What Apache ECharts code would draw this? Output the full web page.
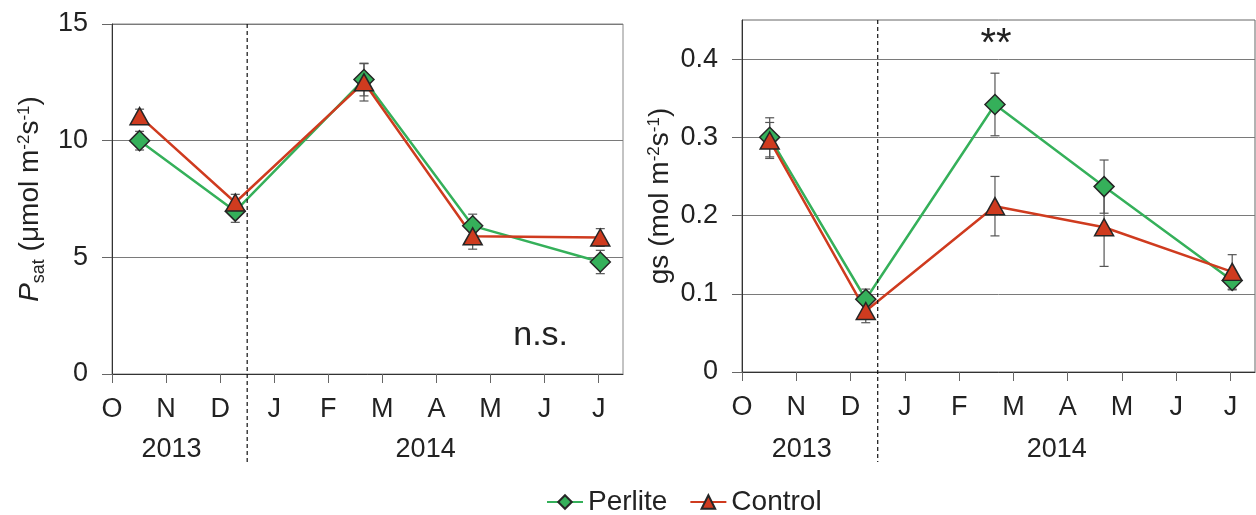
<!DOCTYPE html>
<html>
<head>
<meta charset="utf-8">
<script src="https://cdn.jsdelivr.net/npm/echarts@6/dist/echarts.min.js"></script>
<style>
  html, body { margin: 0; background: #fff; }
  #chart { width: 1256px; height: 515px; }
</style>
</head>
<body>
<div id="chart"></div>
<script>
// months from October 2013 (0 = start of Oct)
const months = ['O', 'N', 'D', 'J', 'F', 'M', 'A', 'M', 'J', 'J'];
const monthTicks = [0, 1, 2, 3, 4, 5, 6, 7, 8, 9];
const sampleDates = [0.51, 2.28, 4.66, 6.67, 9.03];
const yearLabels = ['2013', '2014'];
const yearLabelPos = [1.1, 5.8];
const yearSplit = 2.5;

const perlitePsat = [10.0, 6.98, 12.62, 6.35, 4.8];
const perlitePsatErr = [0.4, 0.48, 0.7, 0.5, 0.5];
const controlPsat = [11.05, 7.35, 12.5, 5.9, 5.85];
const controlPsatErr = [0.3, 0.35, 0.8, 0.55, 0.38];

const perliteGs = [0.300, 0.093, 0.342, 0.237, 0.117];
const perliteGsErr = [0.025, 0.013, 0.04, 0.034, 0.012];
const controlGs = [0.296, 0.078, 0.212, 0.185, 0.128];
const controlGsErr = [0.023, 0.015, 0.038, 0.05, 0.022];

const psatTicks = [0, 5, 10, 15];
const gsTicks = [0, 0.1, 0.2, 0.3, 0.4];

const FONT = '"Liberation Sans", Arial, sans-serif';
const GREEN = '#35b05a';
const RED = '#cf3b1f';
const EDGE = '#262626';

function xAxisFor(gi) {
    return {
        type: 'value', gridIndex: gi, min: 0, max: 9.45, interval: 1,
        axisLine: { lineStyle: { color: '#333', width: 1 } },
        axisTick: { length: 9, customValues: monthTicks, lineStyle: { color: '#666' } },
        axisLabel: {
            customValues: monthTicks,
            formatter: v => months[Math.round(v)] ?? '',
            fontSize: 27, fontFamily: FONT, color: '#222', margin: 22
        },
        splitLine: { show: false }
    };
}

function yAxisFor(gi, max, interval, ticks, name, gap) {
    return {
        type: 'value', gridIndex: gi, min: 0, max: max, interval: interval,
        name: name, nameLocation: 'middle', nameRotate: 90, nameGap: gap,
        nameTextStyle: {
            fontSize: 28, fontFamily: FONT, color: '#222',
            rich: {
                it: { fontSize: 28, fontStyle: 'italic', fontFamily: FONT, color: '#222' },
                sub: { fontSize: 18, fontFamily: FONT, color: '#222', verticalAlign: 'bottom', padding: [0, 0, -4, 0] },
                sup: { fontSize: 17, fontFamily: FONT, color: '#222', verticalAlign: 'top' }
            }
        },
        axisLine: { show: true, lineStyle: { color: '#333', width: 1 } },
        axisTick: { show: true, length: 10, customValues: ticks, lineStyle: { color: '#666' } },
        axisLabel: {
            customValues: ticks,
            fontSize: 27, fontFamily: FONT, color: '#222', margin: 24
        },
        splitLine: { show: true, lineStyle: { color: '#7a7a7a', width: 1 } }
    };
}

function lineSeries(name, values, gi, color, symbol, size) {
    return {
        name: name, type: 'line', xAxisIndex: gi, yAxisIndex: gi, z: 5,
        data: sampleDates.map((d, i) => [d, values[i]]),
        symbol: symbol, symbolSize: size,
        lineStyle: { color: color, width: 2.5 },
        itemStyle: { color: color, borderColor: EDGE, borderWidth: 1.5 },
        emphasis: { disabled: true }
    };
}

function errorSeries(name, values, errs, gi) {
    return {
        name: name, type: 'custom', xAxisIndex: gi, yAxisIndex: gi, z: 3,
        data: sampleDates.map((d, i) => [d, values[i] - errs[i], values[i] + errs[i]]),
        renderItem(params, api) {
            const lo = api.coord([api.value(0), api.value(1)]);
            const hi = api.coord([api.value(0), api.value(2)]);
            const w = 4.5;
            const st = { stroke: '#555', lineWidth: 1.2 };
            return {
                type: 'group',
                children: [
                    { type: 'line', shape: { x1: lo[0], y1: lo[1], x2: hi[0], y2: hi[1] }, style: st },
                    { type: 'line', shape: { x1: lo[0] - w, y1: lo[1], x2: lo[0] + w, y2: lo[1] }, style: st },
                    { type: 'line', shape: { x1: hi[0] - w, y1: hi[1], x2: hi[0] + w, y2: hi[1] }, style: st }
                ]
            };
        }
    };
}

const option = {
    animation: false,
    textStyle: { fontFamily: FONT },
    grid: [
        { left: 112, top: 24, width: 511, height: 350, show: true, borderColor: '#888', borderWidth: 1 },
        { left: 742, top: 20, width: 513, height: 352, show: true, borderColor: '#666', borderWidth: 1 }
    ],
    legend: {
        data: ['Perlite', 'Control'],
        left: 541, top: 483,
        itemWidth: 36, itemHeight: 17, itemGap: 22,
        textStyle: { fontSize: 28, fontFamily: FONT, color: '#222' }
    },
    xAxis: [xAxisFor(0), xAxisFor(1)],
    yAxis: [
        yAxisFor(0, 15, 5, psatTicks, '{it|P}{sub|sat} (μmol m{sup|-2}s{sup|-1})', 68),
        yAxisFor(1, 0.45, 0.1, gsTicks, 'gs (mol m{sup|-2}s{sup|-1})', 68)
    ],
    series: [
        errorSeries('Perlite SE', perlitePsat, perlitePsatErr, 0),
        errorSeries('Control SE', controlPsat, controlPsatErr, 0),
        errorSeries('Perlite SE', perliteGs, perliteGsErr, 1),
        errorSeries('Control SE', controlGs, controlGsErr, 1),
        lineSeries('Perlite', perlitePsat, 0, GREEN, 'diamond', 20),
        lineSeries('Control', controlPsat, 0, RED, 'triangle', [19, 17]),
        lineSeries('Perlite', perliteGs, 1, GREEN, 'diamond', 20),
        lineSeries('Control', controlGs, 1, RED, 'triangle', [19, 17])
    ]
};

const chart = echarts.init(document.getElementById('chart'));
chart.setOption(option);

// dashed year divider, year labels and significance notes
const graphics = [];
[[0, 15], [1, 0.45]].forEach(([gi, ymax]) => {
    const top = chart.convertToPixel({ gridIndex: gi }, [yearSplit, ymax]);
    graphics.push({
        type: 'line', z: 10,
        shape: { x1: top[0], y1: top[1], x2: top[0], y2: 462 },
        style: { stroke: '#111', lineWidth: 1.2, lineDash: [4, 3] }
    });
    yearLabels.forEach((t, i) => {
        const p = chart.convertToPixel({ gridIndex: gi }, [yearLabelPos[i], 0]);
        graphics.push({
            type: 'text', x: p[0], y: 450,
            style: { text: t, fontSize: 27, fontFamily: FONT, fill: '#222', align: 'center', verticalAlign: 'middle' }
        });
    });
});
const ns = chart.convertToPixel({ gridIndex: 0 }, [7.42, 1.65]);
graphics.push({
    type: 'text', x: ns[0], y: ns[1],
    style: { text: 'n.s.', fontSize: 34, fontFamily: FONT, fill: '#222', align: 'left', verticalAlign: 'middle' }
});
const star = chart.convertToPixel({ gridIndex: 1 }, [4.68, 0.418]);
graphics.push({
    type: 'text', x: star[0], y: star[1],
    style: { text: '**', fontSize: 40, fontFamily: FONT, fill: '#222', align: 'center', verticalAlign: 'middle' }
});
chart.setOption({ graphic: graphics });

window.addEventListener('resize', () => chart.resize());
</script>
</body>
</html>
